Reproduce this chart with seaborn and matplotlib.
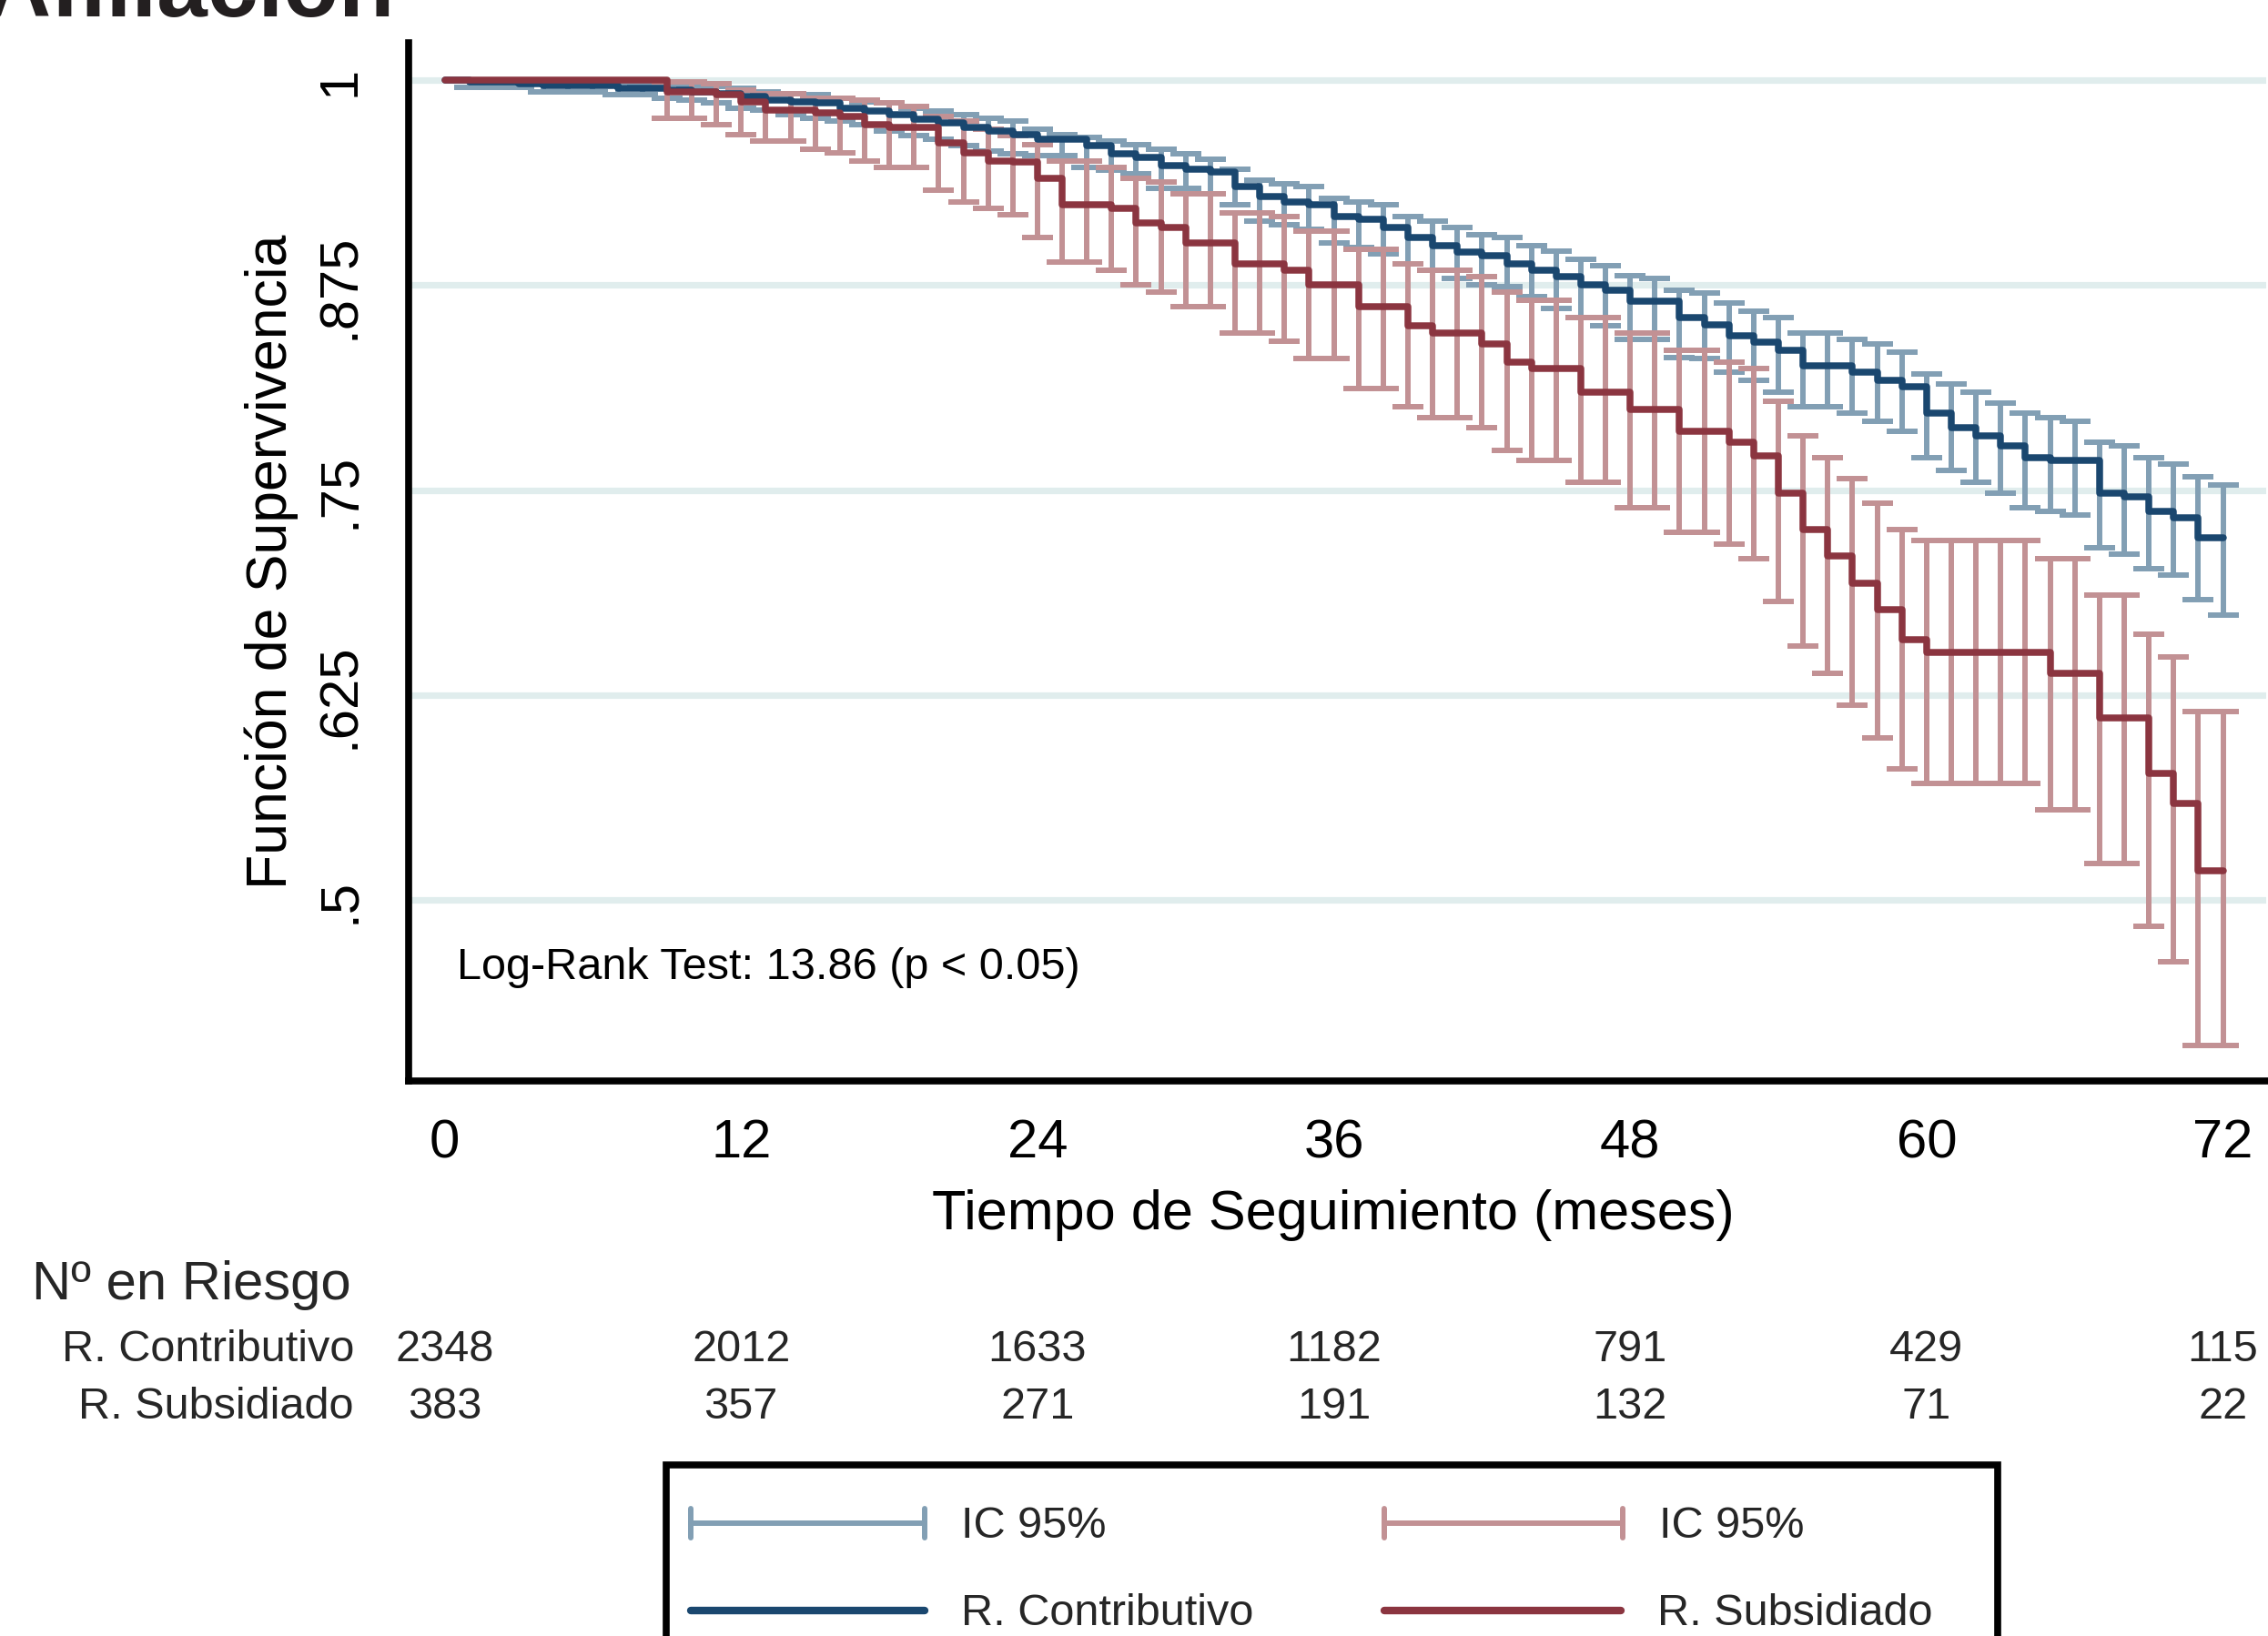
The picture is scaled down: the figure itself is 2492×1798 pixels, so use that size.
import numpy as np
import pandas as pd
import matplotlib
matplotlib.use("Agg")
import matplotlib.pyplot as plt
import matplotlib.transforms as mtransforms
from matplotlib.lines import Line2D
from matplotlib.patches import Rectangle
import seaborn as sns

# ---------------- data ----------------
meses = list(range(0, 73))

sub_s = [1.000, 1.000, 1.000, 1.000, 1.000, 1.000, 1.000, 1.000, 1.000, 0.993, 0.993, 0.991,
         0.987, 0.982, 0.982, 0.980, 0.978, 0.973, 0.971, 0.971, 0.962, 0.956, 0.951, 0.950,
         0.940, 0.924, 0.924, 0.922, 0.913, 0.910, 0.901, 0.901, 0.888, 0.888, 0.884, 0.875,
         0.875, 0.862, 0.862, 0.850, 0.846, 0.846, 0.839, 0.828, 0.824, 0.824, 0.810, 0.810,
         0.799, 0.799, 0.786, 0.786, 0.779, 0.771, 0.748, 0.726, 0.710, 0.693, 0.677, 0.659,
         0.651, 0.651, 0.651, 0.651, 0.651, 0.638, 0.638, 0.611, 0.611, 0.577, 0.559, 0.518,
         0.518]
sub_lo = [1.000, 1.000, 1.000, 1.000, 1.000, 1.000, 1.000, 1.000, 1.000, 0.977, 0.977, 0.973,
          0.967, 0.963, 0.963, 0.958, 0.956, 0.951, 0.947, 0.947, 0.933, 0.926, 0.922, 0.918,
          0.904, 0.889, 0.889, 0.884, 0.875, 0.871, 0.862, 0.862, 0.846, 0.846, 0.841, 0.830,
          0.830, 0.812, 0.812, 0.801, 0.794, 0.794, 0.788, 0.774, 0.768, 0.768, 0.755, 0.755,
          0.739, 0.739, 0.724, 0.724, 0.717, 0.708, 0.682, 0.655, 0.638, 0.619, 0.599, 0.580,
          0.571, 0.571, 0.571, 0.571, 0.571, 0.555, 0.555, 0.522, 0.522, 0.484, 0.462, 0.411,
          0.411]
sub_hi = [1.000, 1.000, 1.000, 1.000, 1.000, 1.000, 1.000, 1.000, 1.000, 0.999, 0.999, 0.998,
          0.994, 0.992, 0.992, 0.989, 0.989, 0.988, 0.986, 0.984, 0.978, 0.975, 0.970, 0.966,
          0.961, 0.951, 0.951, 0.947, 0.940, 0.938, 0.931, 0.931, 0.919, 0.919, 0.917, 0.908,
          0.908, 0.897, 0.897, 0.888, 0.884, 0.884, 0.880, 0.871, 0.866, 0.866, 0.855, 0.855,
          0.846, 0.846, 0.835, 0.835, 0.828, 0.824, 0.804, 0.783, 0.770, 0.757, 0.742, 0.726,
          0.719, 0.719, 0.719, 0.719, 0.719, 0.708, 0.708, 0.686, 0.686, 0.662, 0.648, 0.615,
          0.615]

con_s = [1.000, 0.999, 0.999, 0.998, 0.997, 0.997, 0.997, 0.995, 0.995, 0.994, 0.993, 0.992,
         0.990, 0.988, 0.987, 0.986, 0.983, 0.981, 0.979, 0.976, 0.974, 0.971, 0.969, 0.967,
         0.964, 0.964, 0.960, 0.955, 0.953, 0.948, 0.946, 0.944, 0.935, 0.929, 0.926, 0.924,
         0.917, 0.915, 0.910, 0.904, 0.899, 0.895, 0.893, 0.888, 0.884, 0.880, 0.875, 0.872,
         0.865, 0.865, 0.855, 0.851, 0.844, 0.840, 0.835, 0.826, 0.826, 0.822, 0.817, 0.813,
         0.797, 0.788, 0.783, 0.777, 0.770, 0.768, 0.768, 0.748, 0.746, 0.737, 0.733, 0.721,
         0.721]
con_lo = [1.000, 0.9955, 0.9955, 0.9955, 0.993, 0.993, 0.993, 0.9915, 0.9915, 0.989, 0.988, 0.986,
          0.983, 0.982, 0.979, 0.977, 0.975, 0.973, 0.969, 0.966, 0.964, 0.960, 0.957, 0.955,
          0.954, 0.954, 0.947, 0.945, 0.943, 0.934, 0.934, 0.931, 0.924, 0.914, 0.912, 0.909,
          0.901, 0.898, 0.894, 0.888, 0.884, 0.879, 0.875, 0.874, 0.868, 0.861, 0.855, 0.850,
          0.842, 0.842, 0.831, 0.830, 0.822, 0.817, 0.810, 0.801, 0.801, 0.797, 0.792, 0.786,
          0.770, 0.762, 0.755, 0.748, 0.739, 0.737, 0.735, 0.715, 0.711, 0.702, 0.698, 0.683,
          0.674]
con_hi = [1.000, 1.000, 1.000, 1.000, 1.000, 0.999, 0.999, 0.999, 0.998, 0.998, 0.997, 0.996,
          0.995, 0.993, 0.992, 0.991, 0.989, 0.987, 0.986, 0.983, 0.981, 0.979, 0.977, 0.975,
          0.970, 0.967, 0.965, 0.963, 0.961, 0.958, 0.955, 0.952, 0.946, 0.939, 0.937, 0.935,
          0.928, 0.926, 0.924, 0.917, 0.914, 0.910, 0.906, 0.904, 0.899, 0.896, 0.891, 0.887,
          0.881, 0.879, 0.872, 0.870, 0.864, 0.859, 0.855, 0.846, 0.846, 0.842, 0.839, 0.834,
          0.821, 0.815, 0.810, 0.803, 0.797, 0.794, 0.792, 0.779, 0.777, 0.770, 0.766, 0.758,
          0.753]

grupos = ["R. Contributivo", "R. Subsidiado"]
riesgo_meses = [0, 12, 24, 36, 48, 60, 72]
riesgo_con = ["2348", "2012", "1633", "1182", "791", "429", "115"]
riesgo_sub = ["383", "357", "271", "191", "132", "71", "22"]
yticks = [0.5, 0.625, 0.75, 0.875, 1.0]
ytick_labels = [".5", ".625", ".75", ".875", "1"]

# ---------------- style ----------------
sns.set_style("white")
plt.rcParams["font.family"] = ["Liberation Sans", "DejaVu Sans"]

C_CON = "#1a476f"
C_SUB = "#8b3540"
C_CON_CI = "#829fb4"
C_SUB_CI = "#c29194"
C_GRID = "#e0eded"

W, H = 2492, 1799
fig = plt.figure(figsize=(W / 100, H / 100), dpi=100)
fig.patch.set_facecolor("white")

ax_left, ax_right, ax_bot, ax_top = 449, 2490, 1189, 48
ax = fig.add_axes([ax_left / W, 1 - ax_bot / H, (ax_right - ax_left) / W, (ax_bot - ax_top) / H])
ax.set_facecolor("white")

# confidence intervals (capped bars)
m = np.array(meses)
for lo, hi, col, z in [(con_lo, con_hi, C_CON_CI, 2), (sub_lo, sub_hi, C_SUB_CI, 2.1)]:
    lo = np.array(lo); hi = np.array(hi)
    mask = (hi - lo) > 0
    ax.errorbar(m[mask], (lo[mask] + hi[mask]) / 2, yerr=(hi[mask] - lo[mask]) / 2,
                fmt="none", ecolor=col, elinewidth=4.3, capsize=12.2, capthick=4.3, zorder=z)

# survival step lines via seaborn
df = pd.DataFrame({
    "mes": meses * 2,
    "S": con_s + sub_s,
    "grupo": [grupos[0]] * len(meses) + [grupos[1]] * len(meses),
})
sns.lineplot(data=df, x="mes", y="S", hue="grupo", hue_order=grupos,
             palette={grupos[0]: C_CON, grupos[1]: C_SUB}, estimator=None,
             drawstyle="steps-post", linewidth=5.4, legend=False, ax=ax, zorder=3)

# axes
ax.set_xlim(-1.46, 73.75)
ax.set_ylim(0.3895, 1.0229)
ax.set_xticks(riesgo_meses)
ax.set_yticks(yticks)
ax.set_yticklabels(ytick_labels)
ax.yaxis.grid(True, color=C_GRID, linewidth=5.2)
ax.xaxis.grid(False)
ax.set_axisbelow(True)
for s in ["top", "right"]:
    ax.spines[s].set_visible(False)
for s in ["left", "bottom"]:
    ax.spines[s].set_color("black")
    ax.spines[s].set_linewidth(5.5)
ax.tick_params(axis="both", which="major", direction="out", length=23, width=5.5,
               color="black", labelcolor="black")
ax.tick_params(axis="x", labelsize=43, pad=6)
ax.tick_params(axis="y", labelsize=43, pad=11.5)
for lab in ax.get_yticklabels():
    lab.set_rotation(90)
    lab.set_va("center")
    lab.set_ha("right")

axw = ax_right - ax_left
axh = ax_bot - ax_top
ax.set_xlabel("Tiempo de Seguimiento (meses)", fontsize=44, color="black")
ax.xaxis.set_label_coords((1465 - ax_left) / axw, (ax_bot - 1351) / axh)
ax.xaxis.label.set_va("baseline")
ax.set_ylabel("Función de Supervivencia", fontsize=45, color="black")
ax.yaxis.set_label_coords((315 - ax_left) / axw, (ax_bot - 617) / axh)
ax.yaxis.label.set_va("baseline")

ax.text((502 - ax_left) / axw, (ax_bot - 1076) / axh, "Log-Rank Test: 13.86 (p < 0.05)",
        transform=ax.transAxes, fontsize=35, ha="left", va="baseline", color="black")

# title (cropped at top of image)
fig.text(434 / W, 1 - 18 / H, "Afiliación", ha="right", va="baseline",
         fontsize=72, fontweight="bold", color="#231f20")

# number at risk table
fig.text(35 / W, 1 - 1428 / H, "Nº en Riesgo", fontsize=43, ha="left", va="baseline")
fig.text(389 / W, 1 - 1496 / H, grupos[0], fontsize=35, ha="right", va="baseline")
fig.text(389 / W, 1 - 1559 / H, grupos[1], fontsize=35, ha="right", va="baseline")
trans = mtransforms.blended_transform_factory(ax.transData, fig.transFigure)
for mm, a, b in zip(riesgo_meses, riesgo_con, riesgo_sub):
    fig.text(mm, 1 - 1496 / H, a, transform=trans, fontsize=35, ha="center", va="baseline")
    fig.text(mm, 1 - 1559 / H, b, transform=trans, fontsize=35, ha="center", va="baseline")

# legend (box runs off the bottom of the image)
def fx(px):
    return px / W

def fy(py):
    return 1 - py / H

fig.add_artist(Rectangle((fx(732), fy(1900)), fx(2195) - fx(732), fy(1610.5) - fy(1900),
                         transform=fig.transFigure, fill=False, edgecolor="black",
                         linewidth=5.5, clip_on=False))
for x0, x1, col, lab in [(759, 1016, C_CON_CI, "IC 95%"), (1521, 1783, C_SUB_CI, "IC 95%")]:
    fig.add_artist(Line2D([fx(x0), fx(x1)], [fy(1675), fy(1675)], color=col, lw=4.3,
                          transform=fig.transFigure))
    for xc in (x0, x1):
        fig.add_artist(Line2D([fx(xc), fx(xc)], [fy(1659), fy(1691)], color=col, lw=4.3,
                              transform=fig.transFigure))
    fig.text(fx(x1 + 40), fy(1690), lab, fontsize=35, ha="left", va="baseline")
for x0, x1, col, lab in [(759, 1016, C_CON, grupos[0]), (1521, 1781, C_SUB, grupos[1])]:
    fig.add_artist(Line2D([fx(x0), fx(x1)], [fy(1771), fy(1771)], color=col, lw=6,
                          transform=fig.transFigure))
    fig.text(fx(x1 + 40), fy(1786), lab, fontsize=35, ha="left", va="baseline")

fig.savefig("out.png", dpi=100, facecolor="white")
